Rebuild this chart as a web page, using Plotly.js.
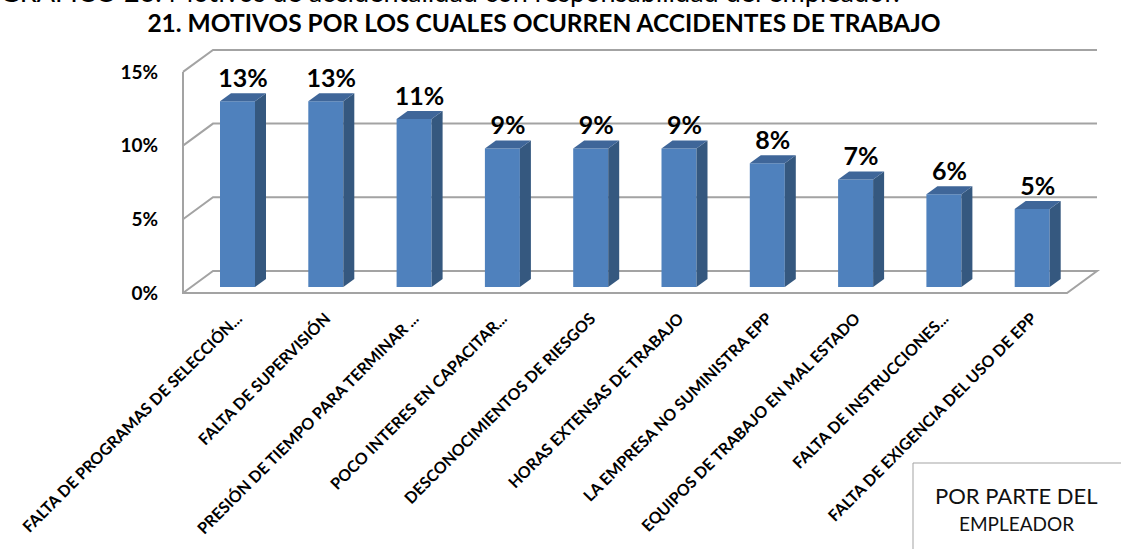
<html lang="es">
  <head>
    <meta charset="UTF-8" />
    <title>Motivos por los cuales ocurren accidentes de trabajo</title>
    <script src="https://cdn.plot.ly/plotly-3.0.1.min.js"></script>
    <style>body { margin: 0; background: #fff; }</style>
  </head>
  <body>
    <div id="chart" style="width: 1121px; height: 549px;"></div>
    <script>
      // data
      const categories = [
        'FALTA DE PROGRAMAS DE SELECCIÓN...',
        'FALTA DE SUPERVISIÓN',
        'PRESIÓN DE TIEMPO PARA TERMINAR ...',
        'POCO INTERES EN CAPACITAR...',
        'DESCONOCIMIENTOS DE RIESGOS',
        'HORAS EXTENSAS DE TRABAJO',
        'LA EMPRESA NO SUMINISTRA EPP',
        'EQUIPOS DE TRABAJO EN MAL ESTADO',
        'FALTA DE INSTRUCCIONES...',
        'FALTA DE EXIGENCIA DEL USO DE EPP'
      ];
      const values = [0.126, 0.126, 0.114, 0.094, 0.094, 0.094, 0.084, 0.073, 0.063, 0.053];
      const yTicks = [0, 0.05, 0.10, 0.15];
      const chartTitle = '21. MOTIVOS POR LOS CUALES OCURREN ACCIDENTES DE TRABAJO';
      const captionAbove = 'GRÁFICO 26. Motivos de accidentalidad con responsabilidad del empleador.';
      const boxLine1 = 'POR PARTE DEL';
      const boxLine2 = 'EMPLEADOR';

      // pixel geometry of the fake 3D box
      const G = {
        W: 1121, H: 549,
        plotL: 180, plotR: 1101, plotT: 46, plotB: 296,
        cat0: 237.5, catStep: 88.3,
        pxPerUnit: 1474,
        backZero: 271, frontZero: 293,
        wallL: 183, floorR: 1067, depthX: 30,
        barW: 35, barDX: 11, barDY: 8, barInset: 6
      };

      const FONT = 'Lato, "Open Sans", sans-serif';
      const GRID = '#A3A3A3';
      const FRONT = '#4F81BD', SIDE = '#35587F', TOP = '#3F6699';

      const DY = (G.frontZero - G.backZero) / G.pxPerUnit;
      const DX = G.depthX / G.catStep;
      const X0 = (G.wallL - G.cat0) / G.catStep;
      const XF = (G.floorR - G.cat0) / G.catStep;
      const BASE = -(G.frontZero - G.barInset - G.backZero) / G.pxPerUnit;
      const BW = G.barW / G.catStep;
      const BDX = G.barDX / G.catStep;
      const BDY = G.barDY / G.pxPerUnit;
      const yTop = yTicks[yTicks.length - 1];

      const px2paperX = p => (p - G.plotL) / (G.plotR - G.plotL);
      const px2paperY = p => (G.plotB - p) / (G.plotB - G.plotT);

      const idx = categories.map((_, i) => i);
      const traces = [];

      // walls, floor and gridlines as a path drawn below the bars
      const seg = pts => 'M' + pts.map(p => p[0] + ',' + p[1]).join('L');
      let wallPath = '';
      yTicks.slice(1).forEach(t => {
        wallPath += seg([[X0, t - DY], [X0 + DX, t], [XF + DX, t]]);
      });
      wallPath += seg([[X0, yTop - DY], [X0, -DY], [XF, -DY], [XF + DX, 0], [X0 + DX, 0], [X0, -DY]]);

      // front faces
      traces.push({
        x: idx, y: values, base: BASE, width: BW, type: 'bar',
        marker: { color: FRONT, line: { width: 0 } }, showlegend: false
      });

      // side and top faces
      values.forEach((v, i) => {
        const r = i + BW / 2, l = i - BW / 2, t = BASE + v;
        traces.push({
          x: [r, r, r + BDX, r + BDX, r], y: [BASE, t, t + BDY, BASE + BDY, BASE],
          type: 'scatter', mode: 'lines', fill: 'toself', fillcolor: SIDE,
          line: { width: 0 }, hoverinfo: 'skip', showlegend: false
        });
        traces.push({
          x: [l, r, r + BDX, l + BDX, l], y: [t, t, t + BDY, t + BDY, t],
          type: 'scatter', mode: 'lines', fill: 'toself', fillcolor: TOP,
          line: { width: 0 }, hoverinfo: 'skip', showlegend: false
        });
      });

      // value labels
      traces.push({
        x: idx.map(i => i + BDX / 2),
        y: values.map(v => BASE + v + BDY),
        text: values.map(v => Math.round(v * 100) + '%'),
        type: 'scatter', mode: 'text', textposition: 'top center',
        textfont: { family: FONT, size: 25, color: '#000', weight: 'bold' },
        cliponaxis: false, hoverinfo: 'skip', showlegend: false
      });

      // y tick labels live on a second axis, aligned with the front edge
      traces.push({
        x: [null], y: [null], yaxis: 'y2', type: 'scatter', mode: 'lines',
        hoverinfo: 'skip', showlegend: false
      });

      const layout = {
        width: G.W, height: G.H,
        margin: { l: G.plotL, r: G.W - G.plotR, t: G.plotT, b: G.H - G.plotB },
        paper_bgcolor: '#fff', plot_bgcolor: 'rgba(0,0,0,0)',
        hovermode: false,
        title: {
          text: chartTitle, xref: 'container', x: 544 / G.W, xanchor: 'center',
          yref: 'container', y: 1 - 23 / G.H, yanchor: 'middle',
          font: { family: FONT, size: 24.5, color: '#000', weight: 'bold' }
        },
        xaxis: {
          range: [(G.plotL - G.cat0) / G.catStep, (G.plotR - G.cat0) / G.catStep],
          tickvals: idx, ticktext: categories, tickangle: -45,
          ticks: 'outside', ticklen: 6, tickcolor: 'rgba(0,0,0,0)',
          tickfont: { family: FONT, size: 16, color: '#000', weight: 'bold' },
          showgrid: false, zeroline: false, showline: false, fixedrange: true
        },
        yaxis: {
          range: [(G.backZero - G.plotB) / G.pxPerUnit, (G.backZero - G.plotT) / G.pxPerUnit],
          showticklabels: false, showgrid: false, zeroline: false, showline: false, ticks: ''
        },
        yaxis2: {
          overlaying: 'y', side: 'left',
          range: [(G.frontZero - G.plotB) / G.pxPerUnit, (G.frontZero - G.plotT) / G.pxPerUnit],
          tickvals: yTicks, tickformat: '.0%',
          ticks: 'outside', ticklen: 17, tickcolor: 'rgba(0,0,0,0)',
          tickfont: { family: FONT, size: 19, color: '#000', weight: 'bold' },
          showgrid: false, zeroline: false, showline: false
        },
        shapes: [
          {
            type: 'path', xref: 'x', yref: 'y', path: wallPath, layer: 'below',
            line: { color: GRID, width: 2 }, fillcolor: 'rgba(0,0,0,0)'
          },
          {
            type: 'rect', xref: 'paper', yref: 'paper',
            x0: px2paperX(913), x1: px2paperX(1130), y0: px2paperY(560), y1: px2paperY(463),
            line: { color: GRID, width: 1 }, fillcolor: 'rgba(0,0,0,0)'
          }
        ],
        annotations: [
          {
            text: captionAbove, xref: 'paper', yref: 'paper',
            x: px2paperX(-2), xanchor: 'left', y: px2paperY(10), yanchor: 'bottom',
            showarrow: false, font: { family: FONT, size: 27, color: '#000' }
          },
          {
            text: boxLine1, xref: 'paper', yref: 'paper',
            x: px2paperX(1016), xanchor: 'center', y: px2paperY(495), yanchor: 'middle',
            showarrow: false, font: { family: FONT, size: 22, color: '#111' }
          },
          {
            text: boxLine2, xref: 'paper', yref: 'paper',
            x: px2paperX(1016), xanchor: 'center', y: px2paperY(523), yanchor: 'middle',
            showarrow: false, font: { family: FONT, size: 19, color: '#111' }
          }
        ]
      };

      Plotly.newPlot('chart', traces, layout, { displayModeBar: false, staticPlot: true });
    </script>
  </body>
</html>
